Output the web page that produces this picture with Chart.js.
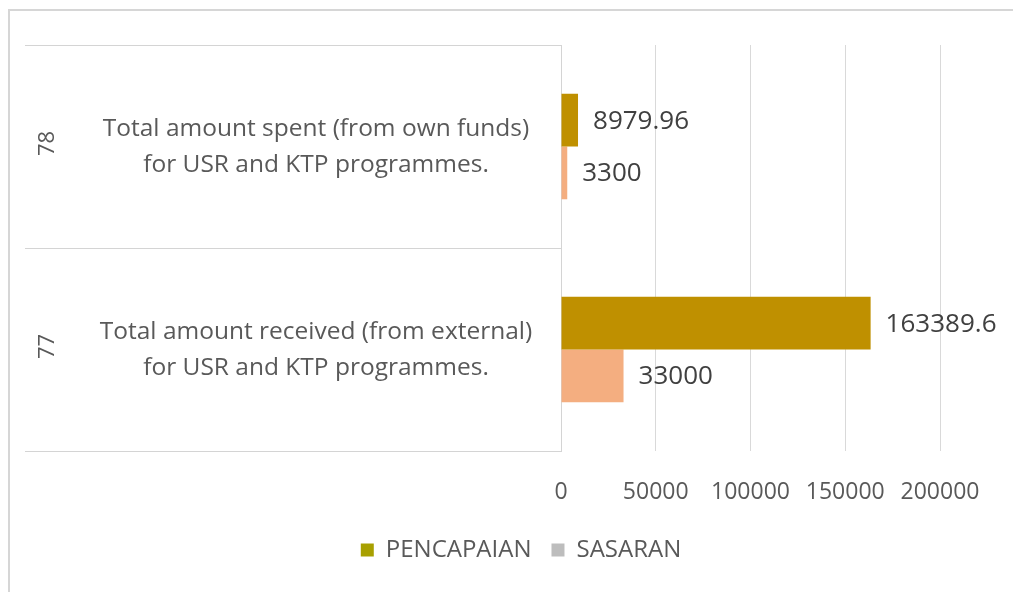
<!DOCTYPE html>
<html>
<head>
<meta charset="utf-8">
<script src="https://cdn.jsdelivr.net/npm/chart.js@4/dist/chart.umd.min.js"></script>
<style>
  html, body { margin: 0; padding: 0; background: #ffffff; }
  #wrap { position: relative; width: 1013px; height: 592px; overflow: hidden; background: #ffffff; }
  #frame { position: absolute; left: 8px; top: 9px; width: 1100px; height: 700px;
           border: 2px solid #d6d6d6; box-sizing: border-box; }
  #chart { position: absolute; left: 0; top: 0; }
</style>
</head>
<body>
<div id="wrap">
  <div id="frame"></div>
  <canvas id="chart" width="1013" height="592"></canvas>
</div>
<script>
// Indicator numbers and their descriptions (top to bottom)
const categories = ['78', '77'];
const descriptions = [
  ['Total amount spent (from own funds)', 'for USR and KTP programmes.'],
  ['Total amount received (from external)', 'for USR and KTP programmes.']
];

// Series values
const pencapaian = [8979.96, 163389.6];
const sasaran = [3300, 33000];

// Value axis
const axisMin = 0;
const axisMax = 200000;
const axisStep = 50000;

const TEXT = '#595959';
const FONT = '"Open Sans", "DejaVu Sans", sans-serif';

// Category boxes on the left: rotated indicator number plus centred description
const categoryLabels = {
  id: 'categoryLabels',
  afterDraw(chart) {
    const { ctx, scales: { y } } = chart;
    ctx.save();
    ctx.fillStyle = TEXT;
    categories.forEach((cat, i) => {
      const cy = y.getPixelForValue(i);
      ctx.save();
      ctx.translate(48, cy - 3);
      ctx.rotate(-Math.PI / 2);
      ctx.font = '22px ' + FONT;
      ctx.textAlign = 'center';
      ctx.textBaseline = 'middle';
      ctx.fillText(cat, 0, 0);
      ctx.restore();

      ctx.font = '24.5px ' + FONT;
      ctx.textAlign = 'center';
      ctx.textBaseline = 'middle';
      const lines = descriptions[i];
      const lh = 36;
      lines.forEach((line, k) => {
        ctx.fillText(line, 316, cy + 1 + (k - (lines.length - 1) / 2) * lh);
      });
    });
    ctx.restore();
  }
};

// Value labels just past the end of each bar
const valueLabels = {
  id: 'valueLabels',
  afterDatasetsDraw(chart) {
    const { ctx } = chart;
    ctx.save();
    ctx.font = '26px ' + FONT;
    ctx.fillStyle = '#404040';
    ctx.textAlign = 'left';
    ctx.textBaseline = 'middle';
    chart.data.datasets.forEach((ds, di) => {
      chart.getDatasetMeta(di).data.forEach((bar, i) => {
        ctx.fillText(String(ds.data[i]), bar.x + 15, bar.y + 1);
      });
    });
    ctx.restore();
  }
};

new Chart(document.getElementById('chart'), {
  type: 'bar',
  data: {
    labels: categories,
    datasets: [
      { label: 'PENCAPAIAN', data: pencapaian, backgroundColor: '#BF9000',
        categoryPercentage: 0.52, barPercentage: 1.0 },
      { label: 'SASARAN', data: sasaran, backgroundColor: '#F4AE80',
        categoryPercentage: 0.52, barPercentage: 1.0 }
    ]
  },
  options: {
    indexAxis: 'y',
    responsive: false,
    animation: false,
    layout: { padding: { left: 102, right: 73, top: 45, bottom: 20 } },
    scales: {
      x: {
        min: axisMin,
        max: axisMax,
        ticks: {
          stepSize: axisStep,
          color: TEXT,
          font: { family: FONT, size: 23 },
          padding: 28,
          callback: v => String(v)
        },
        grid: { color: '#d9d9d9', drawTicks: false },
        border: { display: false },
        afterFit(scale) { scale.height = 67; }
      },
      y: {
        ticks: { display: false },
        grid: { drawOnChartArea: false, drawTicks: true, tickLength: 536, color: '#d4d4d4', offset: true },
        border: { display: true, color: '#d4d4d4' },
        afterFit(scale) { scale.width = 459; }
      }
    },
    plugins: {
      legend: {
        position: 'bottom',
        labels: {
          color: TEXT,
          font: { family: FONT, size: 24 },
          boxWidth: 13,
          boxHeight: 13,
          padding: 20,
          generateLabels: () => [
            { text: 'PENCAPAIAN', fillStyle: '#A8A000', strokeStyle: '#A8A000', lineWidth: 0, fontColor: TEXT, datasetIndex: 0 },
            { text: 'SASARAN', fillStyle: '#BDBDBD', strokeStyle: '#BDBDBD', lineWidth: 0, fontColor: TEXT, datasetIndex: 1 }
          ]
        }
      },
      tooltip: { enabled: false }
    }
  },
  plugins: [categoryLabels, valueLabels]
});
</script>
</body>
</html>
